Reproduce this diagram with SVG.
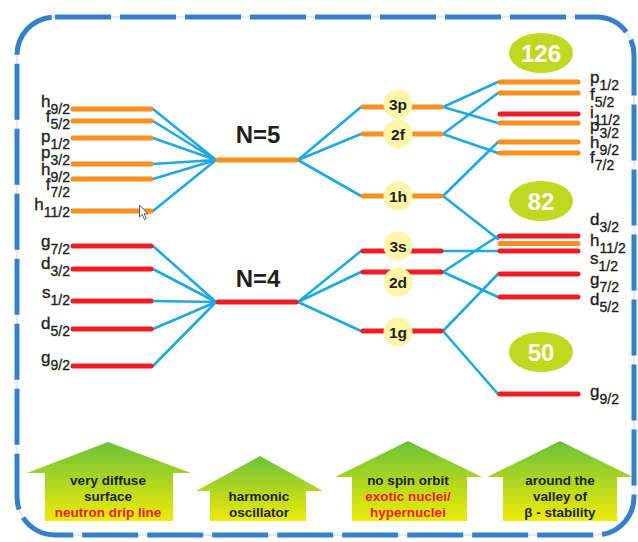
<svg xmlns="http://www.w3.org/2000/svg" width="638" height="542" viewBox="0 0 638 542">
<defs>
<linearGradient id="gr" x1="0" y1="0" x2="0" y2="1">
<stop offset="0" stop-color="#6cc13a"/>
<stop offset="1" stop-color="#eeeb0a"/>
</linearGradient>
</defs>
<style>
.lv{stroke-width:5;stroke-linecap:round}
.or{stroke:#f7901e}
.rd{stroke:#ee1c25}
.cn line{stroke:#1fa9e1;stroke-width:2.6;stroke-linecap:round}
.lb{font-family:"Liberation Sans",Arial,sans-serif;font-size:17px;fill:#231f20;stroke:#231f20;stroke-width:0.35}
.le{text-anchor:end}
.sb{font-size:14px}
.nn{font-family:"Liberation Sans",Arial,sans-serif;font-size:24px;font-weight:bold;fill:#231f20;text-anchor:middle}
.cc{fill:#fdf5a8}
.ct{font-family:"Liberation Sans",Arial,sans-serif;font-size:15.5px;font-weight:bold;fill:#231f20;text-anchor:middle}
.mg{fill:#bed91f}
.mt{font-family:"Liberation Sans",Arial,sans-serif;font-size:24px;font-weight:bold;fill:#fff;text-anchor:middle}
.ar{fill:url(#gr)}
.at{font-family:"Liberation Sans",Arial,sans-serif;font-size:13.5px;font-weight:bold;fill:#231f20;text-anchor:middle}
.red{fill:#ee1c25}
</style>
<rect x="0" y="0" width="638" height="542" fill="#fff"/>
<g id="border">
<rect x="17" y="17" width="617" height="518" rx="38" fill="none" stroke="#d6e5f3" stroke-width="1.5"/>
<rect x="17" y="17" width="617" height="518" rx="38" fill="none" stroke="#3580c8" stroke-width="5" stroke-dasharray="56 9"/>
</g>
<g id="connectors" class="cn">
<line x1="153" y1="109" x2="216" y2="160"/>
<line x1="153" y1="121" x2="216" y2="160"/>
<line x1="153" y1="138" x2="216" y2="160"/>
<line x1="153" y1="164" x2="216" y2="160"/>
<line x1="153" y1="179" x2="216" y2="160"/>
<line x1="153" y1="211" x2="216" y2="160"/>
<line x1="298" y1="160" x2="361" y2="107"/>
<line x1="298" y1="160" x2="361" y2="134"/>
<line x1="298" y1="160" x2="361" y2="196"/>
<line x1="153" y1="246" x2="216" y2="302"/>
<line x1="153" y1="269" x2="216" y2="302"/>
<line x1="153" y1="301" x2="216" y2="302"/>
<line x1="153" y1="329" x2="216" y2="302"/>
<line x1="153" y1="366" x2="216" y2="302"/>
<line x1="298" y1="302" x2="361" y2="251"/>
<line x1="298" y1="302" x2="361" y2="272"/>
<line x1="298" y1="302" x2="361" y2="331"/>
<line x1="443" y1="107" x2="498" y2="82"/>
<line x1="443" y1="107" x2="498" y2="123"/>
<line x1="443" y1="134" x2="498" y2="93"/>
<line x1="443" y1="134" x2="498" y2="153"/>
<line x1="443" y1="196" x2="498" y2="142"/>
<line x1="443" y1="196" x2="498" y2="239"/>
<line x1="443" y1="251" x2="498" y2="251"/>
<line x1="443" y1="272" x2="498" y2="236"/>
<line x1="443" y1="272" x2="498" y2="297"/>
<line x1="443" y1="331" x2="498" y2="274"/>
<line x1="443" y1="331" x2="498" y2="394"/>
</g>
<g id="left-n5">
<line class="lv or" x1="73" y1="109" x2="151" y2="109"/>
<line class="lv or" x1="73" y1="121" x2="151" y2="121"/>
<line class="lv or" x1="73" y1="138" x2="151" y2="138"/>
<line class="lv or" x1="73" y1="164" x2="151" y2="164"/>
<line class="lv or" x1="73" y1="179" x2="151" y2="179"/>
<line class="lv or" x1="73" y1="211" x2="151" y2="211"/>
<text class="lb le" x="70" y="107">h<tspan class="sb" dy="7">9/2</tspan></text>
<text class="lb le" x="70" y="122">f<tspan class="sb" dy="7">5/2</tspan></text>
<text class="lb le" x="70" y="142">p<tspan class="sb" dy="7">1/2</tspan></text>
<text class="lb le" x="70" y="158">p<tspan class="sb" dy="7">3/2</tspan></text>
<text class="lb le" x="70" y="175">h<tspan class="sb" dy="7">9/2</tspan></text>
<text class="lb le" x="70" y="190">f<tspan class="sb" dy="7">7/2</tspan></text>
<text class="lb le" x="70" y="210">h<tspan class="sb" dy="7">11/2</tspan></text>
<polygon points="139.5,205 139.5,217 142.3,214.5 144.5,219.5 146.3,218.7 144.2,213.8 148,213.8" fill="#fff" stroke="#333" stroke-width="0.8" stroke-linejoin="round"/>
</g>
<g id="left-n4">
<line class="lv rd" x1="73" y1="246" x2="151" y2="246"/>
<line class="lv rd" x1="73" y1="269" x2="151" y2="269"/>
<line class="lv rd" x1="73" y1="301" x2="151" y2="301"/>
<line class="lv rd" x1="73" y1="329" x2="151" y2="329"/>
<line class="lv rd" x1="73" y1="366" x2="151" y2="366"/>
<text class="lb le" x="70" y="247">g<tspan class="sb" dy="7">7/2</tspan></text>
<text class="lb le" x="70" y="269">d<tspan class="sb" dy="7">3/2</tspan></text>
<text class="lb le" x="70" y="298">s<tspan class="sb" dy="7">1/2</tspan></text>
<text class="lb le" x="70" y="329">d<tspan class="sb" dy="7">5/2</tspan></text>
<text class="lb le" x="70" y="363">g<tspan class="sb" dy="7">9/2</tspan></text>
</g>
<g id="n5">
<line class="lv or" x1="218" y1="160" x2="296" y2="160"/>
<text class="nn" x="258" y="143">N=5</text>
</g>
<g id="n4">
<line class="lv rd" x1="218" y1="302" x2="296" y2="302"/>
<text class="nn" x="258" y="287">N=4</text>
</g>
<g id="ho-3p">
<line class="lv or" x1="363" y1="107" x2="441" y2="107"/>
<circle class="cc" cx="398" cy="104" r="14.5"/>
<text class="ct" x="398" y="109.5">3p</text>
</g>
<g id="ho-2f">
<line class="lv or" x1="363" y1="134" x2="441" y2="134"/>
<circle class="cc" cx="398" cy="134" r="14.5"/>
<text class="ct" x="398" y="139.5">2f</text>
</g>
<g id="ho-1h">
<line class="lv or" x1="363" y1="196" x2="441" y2="196"/>
<circle class="cc" cx="398" cy="196" r="14.5"/>
<text class="ct" x="398" y="201.5">1h</text>
</g>
<g id="ho-3s">
<line class="lv rd" x1="363" y1="251" x2="441" y2="251"/>
<circle class="cc" cx="398" cy="246" r="14.5"/>
<text class="ct" x="398" y="251.5">3s</text>
</g>
<g id="ho-2d">
<line class="lv rd" x1="363" y1="272" x2="441" y2="272"/>
<circle class="cc" cx="398" cy="282" r="14.5"/>
<text class="ct" x="398" y="287.5">2d</text>
</g>
<g id="ho-1g">
<line class="lv rd" x1="363" y1="331" x2="441" y2="331"/>
<circle class="cc" cx="398" cy="332" r="14.5"/>
<text class="ct" x="398" y="337.5">1g</text>
</g>
<g id="magic-126">
<ellipse class="mg" cx="541" cy="53" rx="32" ry="20"/>
<text class="mt" x="541" y="61.5">126</text>
</g>
<g id="magic-82">
<ellipse class="mg" cx="541" cy="201" rx="32" ry="20"/>
<text class="mt" x="541" y="209.5">82</text>
</g>
<g id="magic-50">
<ellipse class="mg" cx="541" cy="352" rx="32" ry="20"/>
<text class="mt" x="541" y="360.5">50</text>
</g>
<g id="right-levels">
<line class="lv or" x1="500" y1="82" x2="578" y2="82"/>
<line class="lv or" x1="500" y1="93" x2="578" y2="93"/>
<line class="lv rd" x1="500" y1="114" x2="578" y2="114"/>
<line class="lv or" x1="500" y1="123" x2="578" y2="123"/>
<line class="lv or" x1="500" y1="142" x2="578" y2="142"/>
<line class="lv or" x1="500" y1="153" x2="578" y2="153"/>
<line class="lv rd" x1="500" y1="236" x2="578" y2="236"/>
<line class="lv or" x1="500" y1="243.5" x2="578" y2="243.5"/>
<line class="lv rd" x1="500" y1="251" x2="578" y2="251"/>
<line class="lv rd" x1="500" y1="274" x2="578" y2="274"/>
<line class="lv rd" x1="500" y1="297" x2="578" y2="297"/>
<line class="lv rd" x1="500" y1="394" x2="578" y2="394"/>
<text class="lb" x="590" y="83">p<tspan class="sb" dy="7">1/2</tspan></text>
<text class="lb" x="590" y="100">f<tspan class="sb" dy="7">5/2</tspan></text>
<text class="lb" x="590" y="118">i<tspan class="sb" dy="7">11/2</tspan></text>
<text class="lb" x="590" y="131">p<tspan class="sb" dy="7">3/2</tspan></text>
<text class="lb" x="590" y="148">h<tspan class="sb" dy="7">9/2</tspan></text>
<text class="lb" x="590" y="163">f<tspan class="sb" dy="7">7/2</tspan></text>
<text class="lb" x="590" y="225">d<tspan class="sb" dy="7">3/2</tspan></text>
<text class="lb" x="590" y="246">h<tspan class="sb" dy="7">11/2</tspan></text>
<text class="lb" x="590" y="264">s<tspan class="sb" dy="7">1/2</tspan></text>
<text class="lb" x="590" y="285">g<tspan class="sb" dy="7">7/2</tspan></text>
<text class="lb" x="590" y="305">d<tspan class="sb" dy="7">5/2</tspan></text>
<text class="lb" x="590" y="397">g<tspan class="sb" dy="7">9/2</tspan></text>
</g>
<g id="arrow-diffuse">
<polygon class="ar" points="108,442 191,473 173,473 173,521 45,521 45,473 27,473"/>
<text class="at" x="108" y="485">very diffuse</text>
<text class="at" x="108" y="501">surface</text>
<text class="at red" x="108" y="517">neutron drip line</text>
</g>
<g id="arrow-harmonic">
<polygon class="ar" points="260,456 323,491 306,491 306,521 210,521 210,491 196,491"/>
<text class="at" x="259" y="501">harmonic</text>
<text class="at" x="259" y="517">oscillator</text>
</g>
<g id="arrow-nospin">
<polygon class="ar" points="408,441 482,477 467,477 467,521 352,521 352,477 335,477"/>
<text class="at" x="408" y="485">no spin orbit</text>
<text class="at red" x="408" y="501">exotic nuclei/</text>
<text class="at red" x="408" y="517">hypernuclei</text>
</g>
<g id="arrow-valley">
<polygon class="ar" points="560,441 633,477 617,477 617,521 503,521 503,477 487,477"/>
<text class="at" x="560" y="485">around the</text>
<text class="at" x="560" y="501">valley of</text>
<text class="at" x="560" y="517">β - stability</text>
</g>
</svg>
